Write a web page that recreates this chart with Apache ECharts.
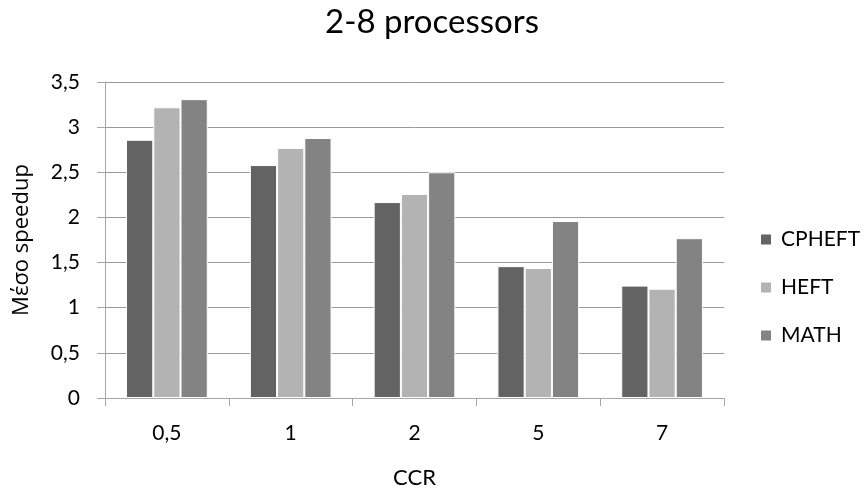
<!DOCTYPE html>
<html>
<head>
<meta charset="utf-8">
<script src="https://cdn.jsdelivr.net/npm/echarts@6/dist/echarts.min.js"></script>
<style>html,body{margin:0;padding:0;background:#fff}#c{width:864px;height:490px}</style>
</head>
<body>
<div id="c"></div>
<script>
const categories = ['0,5', '1', '2', '5', '7'];
const cpheft = [2.86, 2.58, 2.17, 1.46, 1.245];
const heft = [3.22, 2.77, 2.26, 1.44, 1.21];
const math = [3.31, 2.88, 2.50, 1.96, 1.77];
const yTickLabels = ['0', '0,5', '1', '1,5', '2', '2,5', '3', '3,5'];

const chart = echarts.init(document.getElementById('c'), null, {renderer: 'canvas'});
const font = 'Lato, "Noto Sans", sans-serif';
const barStyle = (c) => ({color: c, borderColor: '#ffffff', borderWidth: 1});
chart.setOption({
  animation: false,
  backgroundColor: '#fff',
  title: {
    text: '2-8 processors', left: 'center', top: 6, padding: 0,
    textStyle: {fontFamily: font, fontSize: 33, fontWeight: 'normal', color: '#000'}
  },
  legend: {
    orient: 'vertical', left: 759, top: 229, padding: 0, itemWidth: 12, itemHeight: 12, itemGap: 27,
    icon: 'rect',
    textStyle: {fontFamily: font, fontSize: 21, color: '#000', padding: [0, 0, 0, 4]},
    data: ['CPHEFT', 'HEFT', 'MATH']
  },
  grid: {left: 105, right: 140, top: 82, bottom: 92, containLabel: false, outerBoundsMode: 'none'},
  xAxis: {
    type: 'category', data: categories,
    name: 'CCR', nameLocation: 'middle', nameGap: 69,
    nameTextStyle: {fontFamily: font, fontSize: 22, color: '#000'},
    axisLine: {lineStyle: {color: '#a6a6a6', width: 1}},
    axisTick: {show: true, length: 8, lineStyle: {color: '#a6a6a6'}},
    axisLabel: {fontFamily: font, fontSize: 21, color: '#000', margin: 25}
  },
  yAxis: {
    type: 'value', min: 0, max: 3.5, interval: 0.5,
    name: 'Μέσο speedup', nameLocation: 'middle', nameGap: 72,
    nameTextStyle: {fontFamily: '"Open Sans", sans-serif', fontSize: 22, color: '#000'},
    axisLine: {show: true, lineStyle: {color: '#a6a6a6', width: 1}},
    axisTick: {show: true, length: 8, lineStyle: {color: '#a6a6a6'}},
    splitLine: {lineStyle: {color: '#9a9a9a', width: 1}},
    axisLabel: {
      fontFamily: font, fontSize: 21, color: '#000', margin: 25,
      formatter: (v) => yTickLabels[Math.round(v / 0.5)]
    }
  },
  series: [
    {name: 'CPHEFT', type: 'bar', data: cpheft, itemStyle: barStyle('#636363'), barGap: '0%', barCategoryGap: '34%'},
    {name: 'HEFT', type: 'bar', data: heft, itemStyle: barStyle('#b3b3b3'), barGap: '0%', barCategoryGap: '34%'},
    {name: 'MATH', type: 'bar', data: math, itemStyle: barStyle('#838383'), barGap: '0%', barCategoryGap: '34%'}
  ]
});
</script>
</body>
</html>
